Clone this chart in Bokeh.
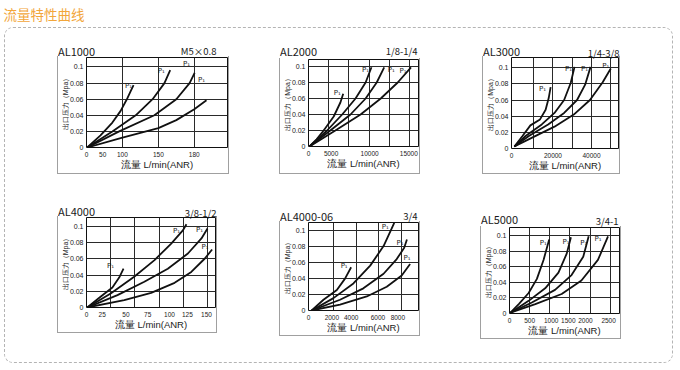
from bokeh.plotting import figure
from bokeh.models import FixedTicker, Label, Range1d
from bokeh.layouts import row, column
from bokeh.embed import file_html
from bokeh.resources import INLINE

FONT = "Noto Sans CJK SC"
AXFONT = "Liberation Sans"

# ---------------- data (x in the chart's own grid units, y in MPa) ----------------
AL1000_TICK_POS = [0, 0.45, 1, 2, 3]
AL1000_TICK_LABELS = ["0", "50", "100", "150", "180"]
AL1000_X1 = [0.02, 0.39, 0.72, 0.95, 1.12, 1.23, 1.31]
AL1000_Y1 = [0, 0.015, 0.031, 0.0455, 0.0596, 0.070, 0.0774]
AL1000_X2 = [0.02, 0.72, 1.37, 1.84, 2.17, 2.33]
AL1000_Y2 = [0, 0.020, 0.040, 0.060, 0.080, 0.096]
AL1000_X3 = [0.02, 0.91, 1.89, 2.50, 2.87, 3.01]
AL1000_Y3 = [0, 0.020, 0.040, 0.060, 0.080, 0.0928]
AL1000_X4 = [0.02, 1.0, 2.0, 2.5, 3.0, 3.34]
AL1000_Y4 = [0, 0.0124, 0.024, 0.034, 0.0476, 0.0588]

AL2000_TICK_POS = [0.001, 1.12, 3.03, 4.97]
AL2000_TICK_LABELS = ["0", "5000", "10000", "15000"]
AL2000_X1 = [0.05, 0.40, 0.75, 1.25, 1.58, 1.72]
AL2000_Y1 = [0, 0.009, 0.020, 0.0375, 0.055, 0.066]
AL2000_X2 = [0.05, 0.92, 1.67, 2.33, 2.83, 3.12]
AL2000_Y2 = [0, 0.020, 0.040, 0.060, 0.080, 0.099]
AL2000_X3 = [0.05, 1.08, 2.08, 2.83, 3.38, 3.75]
AL2000_Y3 = [0, 0.020, 0.040, 0.060, 0.080, 0.099]
AL2000_X4 = [0.05, 1.33, 2.58, 3.58, 4.42, 5.08]
AL2000_Y4 = [0, 0.020, 0.040, 0.060, 0.080, 0.099]

AL3000_TICK_POS = [-0.149, 2, 4]
AL3000_TICK_LABELS = ["0", "20000", "40000"]
AL3000_X1 = [0, 0.42, 0.83, 1.33, 1.62, 1.78, 1.88]
AL3000_Y1 = [0.0024, 0.0155, 0.0286, 0.036, 0.048, 0.0624, 0.0759]
AL3000_X2 = [0, 0.58, 1.42, 2.08, 2.58, 2.92, 3.12]
AL3000_Y2 = [0.0024, 0.0155, 0.0298, 0.044, 0.060, 0.081, 0.101]
AL3000_X3 = [0, 0.75, 1.75, 2.58, 3.25, 3.67, 3.95]
AL3000_Y3 = [0.0024, 0.0155, 0.0298, 0.044, 0.060, 0.079, 0.101]
AL3000_X4 = [0, 0.92, 2.08, 3.08, 3.92, 4.58, 5.0]
AL3000_Y4 = [0.0024, 0.0135, 0.027, 0.042, 0.060, 0.082, 0.099]

AL4000_TICK_POS = [0.001, 0.65, 1.63, 2.53, 3.43, 4.17, 4.96]
AL4000_TICK_LABELS = ["0", "25", "50", "75", "100", "125", "150"]
AL4000_X1 = [0.03, 0.58, 1.07, 1.35, 1.53]
AL4000_Y1 = [0, 0.0132, 0.0247, 0.037, 0.048]
AL4000_X2 = [0.03, 1.0, 1.97, 2.81, 3.5, 3.99, 4.13]
AL4000_Y2 = [0, 0.0173, 0.038, 0.0586, 0.079, 0.0957, 0.103]
AL4000_X3 = [0.03, 1.28, 2.39, 3.36, 4.19, 4.75, 5.0]
AL4000_Y3 = [0, 0.0153, 0.0318, 0.048, 0.0668, 0.0854, 0.0977]
AL4000_X4 = [0.03, 1.56, 2.67, 3.64, 4.33, 4.89, 5.19]
AL4000_Y4 = [0, 0.0091, 0.018, 0.0305, 0.044, 0.0606, 0.0717]

AL400006_TICK_POS = [-0.099, 0.93, 1.78, 2.96, 3.84]
AL400006_TICK_LABELS = ["0", "2000", "4000", "6000", "8000"]
AL400006_X1 = [0.04, 0.56, 1.15, 1.51, 1.78]
AL400006_Y1 = [0, 0.0135, 0.0257, 0.040, 0.0543]
AL400006_X2 = [0.04, 1.0, 1.88, 2.62, 3.21, 3.57, 3.68]
AL400006_Y2 = [0, 0.0155, 0.0339, 0.0563, 0.0808, 0.103, 0.110]
AL400006_X3 = [0.04, 1.29, 2.32, 3.21, 3.79, 4.12, 4.24]
AL400006_Y3 = [0, 0.0135, 0.0278, 0.0461, 0.0645, 0.0788, 0.089]
AL400006_X4 = [0.04, 1.29, 2.47, 3.35, 4.01, 4.38]
AL400006_Y4 = [0, 0.0073, 0.0176, 0.0298, 0.044, 0.0584]

AL5000_TICK_POS = [0.001, 1.0, 2.07, 2.92, 3.77, 4.92]
AL5000_TICK_LABELS = ["0", "500", "1000", "1500", "2000", "2500"]
AL5000_X1 = [0.05, 0.46, 0.95, 1.36, 1.69, 1.97]
AL5000_Y1 = [0.001, 0.0121, 0.0263, 0.0444, 0.0687, 0.095]
AL5000_X2 = [0.05, 0.95, 1.77, 2.43, 2.84, 3.05]
AL5000_Y2 = [0.001, 0.0162, 0.0323, 0.0525, 0.0768, 0.0978]
AL5000_X3 = [0.05, 1.11, 2.26, 3.08, 3.66, 3.93]
AL5000_Y3 = [0.001, 0.0141, 0.0303, 0.0493, 0.0727, 0.099]
AL5000_X4 = [0.05, 1.28, 2.59, 3.57, 4.39, 4.89]
AL5000_Y4 = [0.001, 0.0121, 0.025, 0.0424, 0.0687, 0.099]

Y_TICKS = [0, 0.02, 0.04, 0.06, 0.08, 0.1]
Y_TICK_LABELS = ["0", "0.02", "0.04", "0.06", "0.08", "0.1"]
CURVE_LABEL = "P₁"
X_LABEL = "流量 L/min(ANR)"
Y_LABEL = "出口压力（Mpa）"
HEADER = "流量特性曲线"

# ---------------- layout / style per panel (page pixels) ----------------
# geom = (box left, frame left, frame right, frame top, frame bottom, box bottom)
# name_at / port_at = (x, text centre y)
PANELS = [
    dict(name="AL1000", port="M5×0.8", geom=(57, 86, 226, 57, 147, 173),
         xr=(0, 3.925), ytop=0.1118, grid=[1, 2, 3],
         ticks=AL1000_TICK_POS, labels=AL1000_TICK_LABELS,
         curves=[(AL1000_X1, AL1000_Y1), (AL1000_X2, AL1000_Y2), (AL1000_X3, AL1000_Y3), (AL1000_X4, AL1000_Y4)],
         poff=[(-5, -1), (-9, -1), (-8, 9), (-5, 20)],
         name_at=(57, 50), port_at=(216, 50)),
    dict(name="AL2000", port="1/8-1/4", geom=(279, 308, 417, 59, 146, 173),
         xr=(0, 5.45), ytop=0.10875, grid=[1, 2, 3, 4, 5],
         ticks=AL2000_TICK_POS, labels=AL2000_TICK_LABELS,
         curves=[(AL2000_X1, AL2000_Y1), (AL2000_X2, AL2000_Y2), (AL2000_X3, AL2000_Y3), (AL2000_X4, AL2000_Y4)],
         poff=[(-6, 1), (-6, -3), (7, -3), (-8, -4)],
         name_at=(279, 50), port_at=(417, 50)),
    dict(name="AL3000", port="1/4-3/8", geom=(482, 506, 617, 57, 149, 173),
         xr=(-0.15, 5.4), ytop=0.1126, grid=[1, 2, 3, 4, 5],
         ticks=AL3000_TICK_POS, labels=AL3000_TICK_LABELS,
         curves=[(AL3000_X1, AL3000_Y1), (AL3000_X2, AL3000_Y2), (AL3000_X3, AL3000_Y3), (AL3000_X4, AL3000_Y4)],
         poff=[(-8, -2), (-6, -2), (-6, -2), (-5, 2)],
         name_at=(481, 50), port_at=(619, 52.5)),
    dict(name="AL4000", port="3/8-1/2", geom=(57, 86, 214, 217, 307, 332),
         xr=(0, 5.33), ytop=0.1113, grid=[1, 2, 3, 4, 5],
         ticks=AL4000_TICK_POS, labels=AL4000_TICK_LABELS,
         curves=[(AL4000_X1, AL4000_Y1), (AL4000_X2, AL4000_Y2), (AL4000_X3, AL4000_Y3), (AL4000_X4, AL4000_Y4)],
         poff=[(-13, 3), (-10, -7), (-8, -2), (-7, 3)],
         name_at=(57, 210), port_at=(216, 212.5)),
    dict(name="AL4000-06", port="3/4", geom=(279, 307, 417, 222, 314, 335),
         xr=(-0.1, 4.75), ytop=0.1104, grid=[1, 2, 3, 4],
         ticks=AL400006_TICK_POS, labels=AL400006_TICK_LABELS,
         curves=[(AL400006_X1, AL400006_Y1), (AL400006_X2, AL400006_Y2), (AL400006_X3, AL400006_Y3), (AL400006_X4, AL400006_Y4)],
         poff=[(-7, 1), (-9, -4), (-7, -3), (-3, 6)],
         name_at=(279, 215), port_at=(417, 215)),
    dict(name="AL5000", port="3/4-1", geom=(480, 507, 618, 227, 318, 338),
         xr=(0, 5.46), ytop=0.1103, grid=[1, 2, 3, 4, 5],
         ticks=AL5000_TICK_POS, labels=AL5000_TICK_LABELS,
         curves=[(AL5000_X1, AL5000_Y1), (AL5000_X2, AL5000_Y2), (AL5000_X3, AL5000_Y3), (AL5000_X4, AL5000_Y4)],
         poff=[(-6, -4), (-5, -5), (-5, -7), (-10, -3)],
         name_at=(480, 218), port_at=(618, 220)),
]

TH = 26          # height of each panel's (transparent) title strip
OVER = 6         # how far the strip overlaps the top of the panel below it
BOX_CSS = {"border-left": "1px solid #a0a0a0", "border-right": "1px solid #a0a0a0",
           "border-bottom": "1px solid #a0a0a0"}
IN_LEFT, IN_TOP, IN_RIGHT, IN_BOTTOM = 5, 28, 672, 362   # inside of the dashed border


def make_cell(cfg):
    bl, fl, fr, ft, fb, bb = cfg["geom"]
    cw = fr - bl + 1
    ct = ft - 1
    ch = bb - ct
    mbl = fl - (bl + 1)
    mbb = bb - fb
    x0, x1 = cfg["xr"]
    ytop = cfg["ytop"]
    p = figure(width=cw, height=ch, title=None, toolbar_location=None,
               output_backend="svg", x_range=Range1d(x0, x1), y_range=Range1d(0, ytop),
               min_border_top=1, min_border_right=1, min_border_bottom=mbb, min_border_left=mbl,
               outline_line_color="#111111", outline_line_width=1, frame_align=False,
               background_fill_color="white", border_fill_color="white")

    xa = p.xaxis[0]
    xa.ticker = FixedTicker(ticks=cfg["ticks"])
    xa.major_label_overrides = {k: v for k, v in zip(cfg["ticks"], cfg["labels"])}
    xa.axis_label = X_LABEL
    xa.axis_label_standoff = -1
    xa.major_label_standoff = 4
    ya = p.yaxis[0]
    ya.ticker = FixedTicker(ticks=Y_TICKS)
    ya.major_label_overrides = {k: v for k, v in zip(Y_TICKS, Y_TICK_LABELS)}
    ya.axis_label = Y_LABEL
    ya.axis_label_standoff = -2
    ya.major_label_standoff = 3
    for ax, fs, ts in ((xa, "9.5px", "6.5px"), (ya, "7px", "7px")):
        ax.axis_line_color = None
        ax.major_tick_line_color = None
        ax.minor_tick_line_color = None
        ax.major_tick_out = 0
        ax.major_tick_in = 0
        ax.minor_tick_out = 0
        ax.minor_tick_in = 0
        ax.major_label_text_font = AXFONT
        ax.major_label_text_font_size = ts
        ax.major_label_text_color = "#222222"
        ax.axis_label_text_font = AXFONT
        ax.axis_label_text_font_size = fs
        ax.axis_label_text_font_style = "normal"
        ax.axis_label_text_color = "#1a1a1a"

    p.xgrid.ticker = FixedTicker(ticks=cfg["grid"])
    p.ygrid.ticker = FixedTicker(ticks=Y_TICKS[1:])
    for g in (p.xgrid, p.ygrid):
        g.grid_line_color = "#2a2a2a"
        g.grid_line_width = 1

    for (xs, ys), (dx, dy) in zip(cfg["curves"], cfg["poff"]):
        p.line(xs, ys, line_color="#111111", line_width=1.8)
        p.add_layout(Label(x=xs[-1], y=ys[-1], text=CURVE_LABEL, x_offset=dx, y_offset=dy,
                           text_align="center", text_baseline="middle",
                           text_font="DejaVu Sans", text_font_size="7px", text_color="#1a1a1a"))

    boxed = column(p, styles=BOX_CSS)

    tw = cw + 2
    t = figure(width=tw, height=TH, title=None, toolbar_location=None, output_backend="svg",
               x_range=Range1d(0, tw), y_range=Range1d(0, TH), min_border=0,
               x_axis_location=None, y_axis_location=None, outline_line_color=None,
               border_fill_color=None, background_fill_color=None,
               margin=(0, 0, -OVER, 0), styles={"z-index": "2", "position": "relative"})
    t.grid.visible = False
    strip_bottom = ct + OVER
    nx, ny = cfg["name_at"]
    px_, py_ = cfg["port_at"]
    t.add_layout(Label(x=max(nx - bl, 0.5), y=strip_bottom - ny, text=cfg["name"],
                       text_align="left", text_baseline="middle", text_font=FONT,
                       text_font_size="11px", text_color="#1a1a1a"))
    t.add_layout(Label(x=min(px_ - bl, tw - 0.5), y=strip_bottom - py_, text=cfg["port"],
                       text_align="right", text_baseline="middle", text_font=FONT,
                       text_font_size="9.5px", text_color="#1a1a1a"))

    cell = column(t, boxed, spacing=0)
    top = ct - TH + OVER
    height = TH - OVER + ch + 1
    return cell, bl, tw, top, height


def make_row(cfgs, row_top, row_bottom):
    cells = [make_cell(c) for c in cfgs]
    prev = IN_LEFT
    kids = []
    for i, (cell, left, w, top, h) in enumerate(cells):
        mr = (IN_RIGHT - (left + w)) if i == len(cells) - 1 else 0
        cell.margin = (top - row_top, mr, row_bottom - (top + h), left - prev)
        prev = left + w
        kids.append(cell)
    return row(*kids, spacing=0)


ROW_SPLIT = 175
row1 = make_row(PANELS[:3], IN_TOP, ROW_SPLIT)
row2 = make_row(PANELS[3:], ROW_SPLIT, IN_BOTTOM)

header = figure(width=676, height=27, title=None, toolbar_location=None, output_backend="svg",
                x_range=Range1d(0, 676), y_range=Range1d(0, 27), min_border=0,
                x_axis_location=None, y_axis_location=None, outline_line_color=None)
header.grid.visible = False
header.add_layout(Label(x=3, y=14, text=HEADER, text_align="left", text_baseline="middle",
                        text_font=FONT, text_font_size="13.5px", text_color="#F2A63A"))

container = column(row1, row2, spacing=0, margin=(0, 0, 0, 4),
                   styles={"border": "1px dashed #b4b4b4", "border-radius": "9px"})

root = column(header, container, spacing=0,
              styles={"position": "absolute", "left": "0px", "top": "0px"})

open("out.html", "w").write(file_html(root, INLINE))
